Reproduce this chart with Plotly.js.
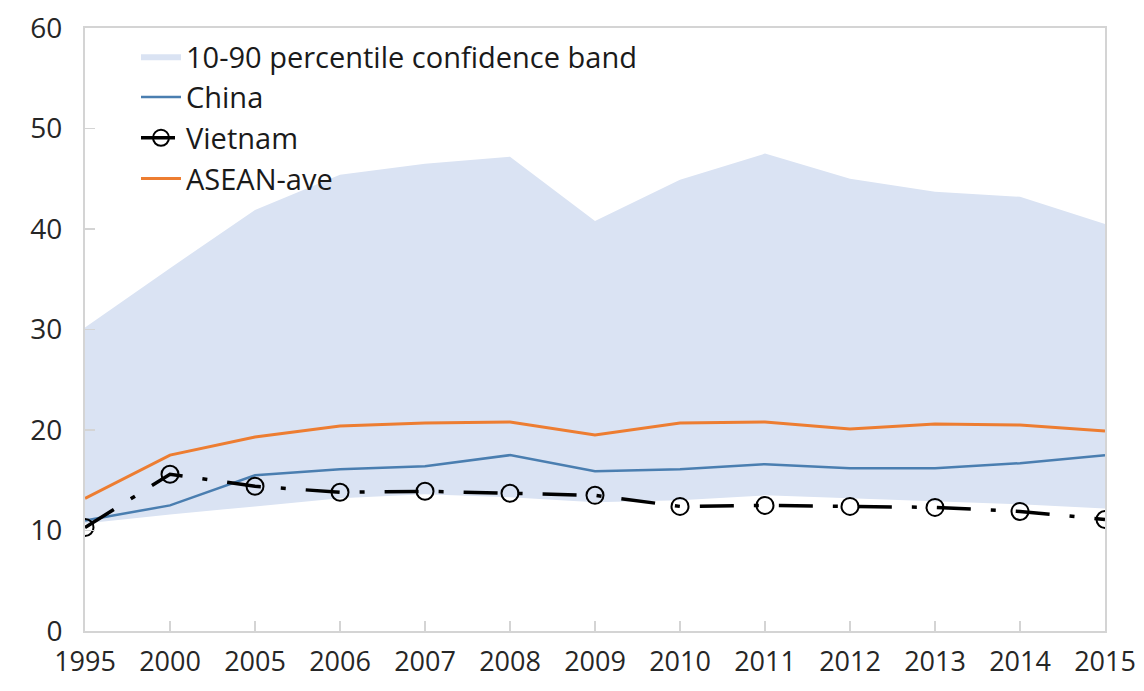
<!DOCTYPE html>
<html>
<head>
<meta charset="utf-8">
<script src="https://cdn.plot.ly/plotly-3.0.1.min.js"></script>
<style>
  html, body { margin: 0; padding: 0; background: #ffffff; }
  #chart { width: 1144px; height: 691px; }
</style>
</head>
<body>
<div id="chart"></div>
<script>
// Years on the category axis
const years = ['1995', '2000', '2005', '2006', '2007', '2008', '2009', '2010', '2011', '2012', '2013', '2014', '2015'];

// 10th and 90th percentile bounds of the band
const bandLow  = [10.7, 11.6, 12.4, 13.2, 13.6, 13.3, 12.8, 13.0, 13.5, 13.2, 12.9, 12.6, 12.2];
const bandHigh = [30.2, 36.1, 41.9, 45.4, 46.5, 47.2, 40.8, 44.9, 47.5, 45.0, 43.7, 43.2, 40.5];

// Country and regional series
const china   = [11.0, 12.5, 15.5, 16.1, 16.4, 17.5, 15.9, 16.1, 16.6, 16.2, 16.2, 16.7, 17.5];
const vietnam = [10.3, 15.6, 14.4, 13.8, 13.9, 13.7, 13.5, 12.4, 12.5, 12.4, 12.3, 11.9, 11.1];
const asean   = [13.2, 17.5, 19.3, 20.4, 20.7, 20.8, 19.5, 20.7, 20.8, 20.1, 20.6, 20.5, 19.9];

const FONT = '"Open Sans", "Noto Sans", sans-serif';

const traces = [
  {
    x: years, y: bandLow, type: 'scatter', mode: 'lines',
    line: { width: 0, color: 'rgba(0,0,0,0)' },
    showlegend: false, hoverinfo: 'skip'
  },
  {
    x: years, y: bandHigh, type: 'scatter', mode: 'lines',
    name: '10-90 percentile confidence band',
    fill: 'tonexty', fillcolor: '#dae3f3',
    line: { width: 0, color: '#dae3f3' }
  },
  {
    x: years, y: china, type: 'scatter', mode: 'lines',
    name: 'China',
    line: { color: '#4a7eb0', width: 2.5 }
  },
  {
    x: years, y: vietnam, type: 'scatter', mode: 'lines+markers',
    name: 'Vietnam',
    line: { color: '#000000', width: 3.5, dash: '34px,20px,5px,20px' },
    marker: { symbol: 'circle-open', size: 17, color: '#000000', line: { width: 2, color: '#000000' } }
  },
  {
    x: years, y: asean, type: 'scatter', mode: 'lines',
    name: 'ASEAN-ave',
    line: { color: '#ed7d31', width: 3 }
  }
];

const layout = {
  width: 1144, height: 691,
  margin: { l: 85, r: 39, t: 28, b: 60, pad: 0 },
  paper_bgcolor: '#ffffff', plot_bgcolor: '#ffffff',
  font: { family: FONT, size: 27, color: '#262626' },
  showlegend: true,
  legend: {
    x: 0.05, y: 0.995, xanchor: 'left', yanchor: 'top',
    bgcolor: 'rgba(0,0,0,0)', borderwidth: 0,
    font: { family: FONT, size: 29, color: '#1a1a1a' },
    traceorder: 'normal', itemwidth: 40, tracegroupgap: 0
  },
  xaxis: {
    type: 'category', range: [0, 12],
    showgrid: false, zeroline: false,
    showline: true, linecolor: '#d4d4d4', linewidth: 2, mirror: true,
    ticks: 'inside', ticklen: 10, tickcolor: '#d4d4d4', tickwidth: 1.5,
    tickfont: { family: FONT, size: 27, color: '#262626' },
    ticklabelstandoff: 6
  },
  yaxis: {
    range: [0, 60], tickvals: [0, 10, 20, 30, 40, 50, 60],
    showgrid: false, zeroline: false,
    showline: true, linecolor: '#d4d4d4', linewidth: 2, mirror: true,
    ticks: 'inside', ticklen: 10, tickcolor: '#d4d4d4', tickwidth: 1.5,
    tickfont: { family: FONT, size: 28, color: '#262626' },
    ticklabelstandoff: 15
  }
};

Plotly.newPlot('chart', traces, layout, { displayModeBar: false, staticPlot: true });
</script>
</body>
</html>
